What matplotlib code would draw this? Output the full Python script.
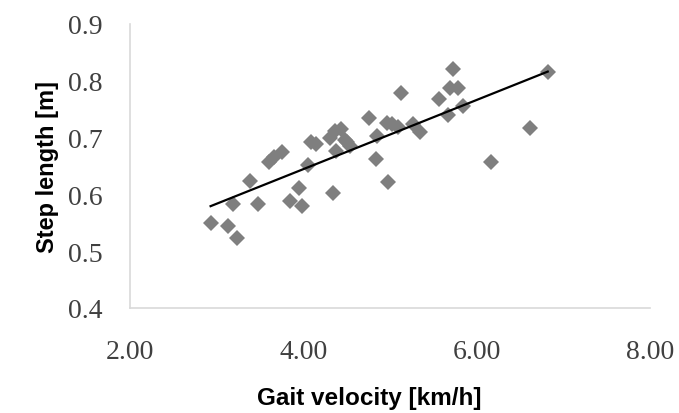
import matplotlib
matplotlib.use("Agg")
import matplotlib.pyplot as plt
import numpy as np

velocity = [2.93, 3.13, 3.24, 3.19, 3.39, 3.48, 3.60, 3.66, 3.75, 3.85, 3.95, 3.98,
            4.05, 4.09, 4.15, 4.34, 4.37, 4.38, 4.44, 4.48, 4.50, 4.54, 4.31, 4.76,
            4.85, 4.84, 4.96, 5.02, 5.09, 4.98, 5.13, 5.27, 5.35, 5.57, 5.67, 5.73,
            5.69, 5.78, 5.84, 6.17, 6.62, 6.82]
step_length = [0.550, 0.545, 0.523, 0.583, 0.624, 0.583, 0.657, 0.665, 0.675, 0.589, 0.611, 0.580,
               0.651, 0.693, 0.689, 0.602, 0.712, 0.677, 0.715, 0.695, 0.692, 0.685, 0.700, 0.735,
               0.703, 0.662, 0.726, 0.724, 0.719, 0.622, 0.779, 0.724, 0.710, 0.768, 0.739, 0.821,
               0.787, 0.787, 0.756, 0.657, 0.717, 0.815]
x_ticks = [2.0, 4.0, 6.0, 8.0]
y_ticks = [0.4, 0.5, 0.6, 0.7, 0.8, 0.9]

fig = plt.figure(figsize=(6.79, 4.14), dpi=100)
ax = fig.add_axes([130/679, 1-309/414, 520/679, 284/414])

ax.plot(velocity, step_length, linestyle='none', marker='D', markersize=8.5,
        color='#7f7f7f', markeredgewidth=0)

xv = np.array(velocity)
coef = np.polyfit(xv, np.array(step_length), 1)
xs = np.array([xv.min(), xv.max()])
ax.plot(xs, np.polyval(coef, xs), color='black', linewidth=1.6)

ax.set_xlim(2, 8)
ax.set_ylim(0.4, 0.9)
ax.set_xticks(x_ticks)
ax.set_xticklabels([f"{v:.2f}" for v in x_ticks])
ax.set_yticks(y_ticks)
ax.set_yticklabels([f"{v:.1f}" for v in y_ticks])

for s in ['top', 'right']:
    ax.spines[s].set_visible(False)
for s in ['left', 'bottom']:
    ax.spines[s].set_color('#d9d9d9')
    ax.spines[s].set_linewidth(1.2)

ax.tick_params(length=0, labelsize=20, labelcolor='#404040')
ax.tick_params(axis='x', pad=22)
ax.tick_params(axis='y', pad=20)
for lab in ax.get_xticklabels() + ax.get_yticklabels():
    lab.set_family('Liberation Serif')

ax.set_xlabel('Gait velocity [km/h]', fontsize=17.5, fontweight='bold',
              family='Liberation Sans', labelpad=16)
ax.xaxis.label.set_x(0.46)
ax.set_ylabel('Step length [m]', fontsize=17, fontweight='bold',
              family='Liberation Sans', labelpad=6)

fig.savefig('out.png', dpi=100)
